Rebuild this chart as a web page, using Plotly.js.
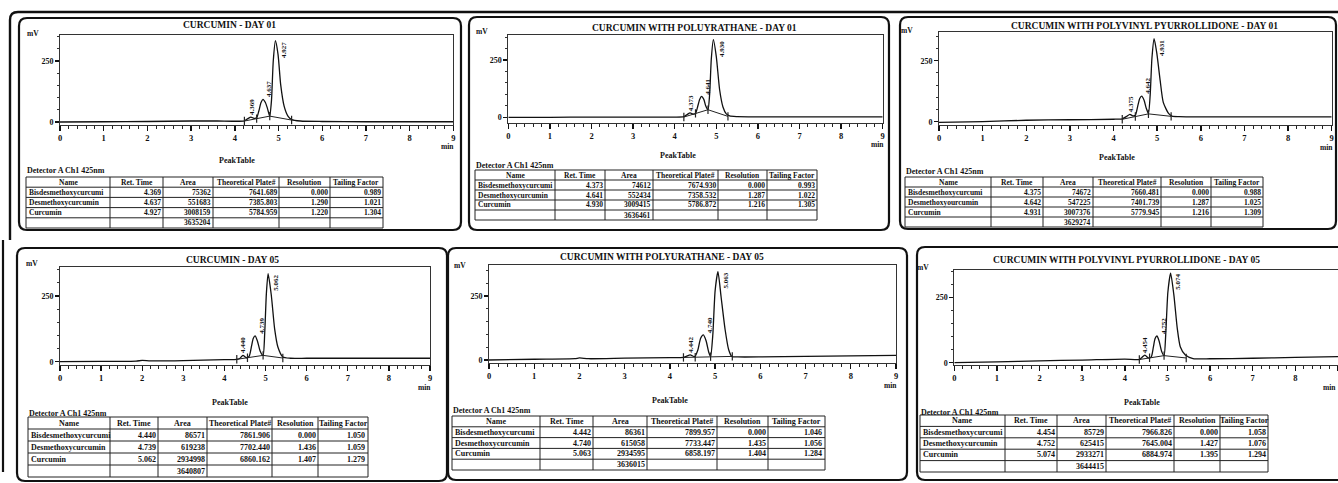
<!DOCTYPE html>
<html><head><meta charset="utf-8">
<script src="https://cdn.plot.ly/plotly-3.0.1.min.js"></script>
<style>html,body{margin:0;padding:0;background:#fff}</style>
</head><body><div id="chart" style="width:1338px;height:483px"></div>
<script>
// ================= DATA =================
const panelTitles = [
  "CURCUMIN - DAY 01",
  "CURCUMIN WITH POLUYRATHANE - DAY 01",
  "CURCUMIN WITH POLYVINYL PYURROLLIDONE - DAY 01",
  "CURCUMIN - DAY 05",
  "CURCUMIN WITH POLYURATHANE - DAY 05",
  "CURCUMIN WITH POLYVINYL PYURROLLIDONE - DAY 05"
];
const tableHeader = ["Name", "Ret. Time", "Area", "Theoretical Plate#", "Resolution", "Tailing Factor"];
const peakNames = ["Bisdesmethoxycurcumi", "Desmethoxycurcumin", "Curcumin"];
const peakNamesP3 = ["Bisdesmethoxycurcumi", "Desmethoxyourcumin", "Curcumin"];
const xTickLabels = ["0","1","2","3","4","5","6","7","8","9"];
const yTickLabels = ["0","250"];

// chromatogram signals (min, mV)
const time1   = [0, 1, 2, 3, 3.6, 4.0, 4.22, 4.30, 4.37, 4.44, 4.50, 4.55, 4.60, 4.645, 4.70, 4.745, 4.80, 4.84, 4.88, 4.93, 4.99, 5.05, 5.13, 5.22, 5.30, 5.5, 6, 7, 8, 9];
const signal1 = [0, 1, 2, 4, 4, 3, 5, 14, 20, 15, 17, 45, 80, 93, 80, 57, 24, 90, 250, 333, 276, 153, 64, 23, 10, 4, 2, 1, 1, 1];
const tentTime1 = [4.22, 4.50, 4.80, 5.30];
const tentSignal1 = [4, 14, 24, 8];

const time2   = [0, 1, 2, 3, 4.0, 4.22, 4.30, 4.37, 4.44, 4.50, 4.55, 4.60, 4.645, 4.70, 4.745, 4.80, 4.84, 4.88, 4.93, 5.00, 5.08, 5.16, 5.24, 5.32, 5.5, 6, 7, 8, 9];
const signal2 = [0, 0, 1, 1, 1, 3, 12, 19, 14, 16, 45, 78, 91, 78, 50, 33, 100, 255, 339, 265, 120, 45, 15, 6, 3, 2, 2, 2, 2];
const tentTime2 = [4.22, 4.50, 4.80, 5.28];
const tentSignal2 = [1, 17, 33, 4];

const time3   = [0, 1, 2, 3, 4.0, 4.20, 4.30, 4.375, 4.44, 4.50, 4.55, 4.60, 4.645, 4.70, 4.75, 4.80, 4.84, 4.88, 4.93, 4.99, 5.07, 5.14, 5.26, 5.34, 5.5, 6, 7, 8, 9];
const signal3 = [-3, 0, 6, 8, 10, 12, 22, 30, 24, 26, 60, 95, 105, 88, 55, 34, 110, 260, 340, 283, 167, 79, 34, 23, 21, 20, 20, 20, 20];
const tentTime3 = [4.20, 4.50, 4.80, 5.32];
const tentSignal3 = [10, 21, 32, 22];

const time4   = [0, 1, 1.85, 2.0, 2.2, 3, 4.0, 4.30, 4.37, 4.45, 4.53, 4.60, 4.66, 4.70, 4.745, 4.80, 4.87, 4.94, 4.98, 5.02, 5.062, 5.14, 5.22, 5.30, 5.42, 5.6, 6, 7, 8, 9];
const signal4 = [0, 1, 2, 5, 3, 4, 8, 9, 12, 24, 15, 20, 60, 88, 98, 80, 40, 24, 110, 260, 335, 253, 126, 56, 18, 13, 13, 13, 13, 13];
const tentTime4 = [4.30, 4.56, 4.94, 5.42];
const tentSignal4 = [9, 15, 24, 14];

const time5   = [0, 1, 1.9, 2.0, 2.2, 3, 4.0, 4.30, 4.37, 4.45, 4.55, 4.62, 4.68, 4.74, 4.80, 4.86, 4.90, 4.95, 5.00, 5.063, 5.13, 5.22, 5.30, 5.37, 5.5, 6, 7, 8, 9];
const signal5 = [0, 3, 5, 8, 5, 7, 9, 10, 15, 20, 13, 40, 85, 98, 75, 30, 13, 100, 270, 345, 250, 120, 40, 14, 12, 12, 14, 16, 18];
const tentTime5 = [4.30, 4.56, 4.90, 5.38];
const tentSignal5 = [10, 11, 13, 14];

const time6   = [0, 1, 2, 3, 4.0, 4.34, 4.40, 4.47, 4.55, 4.62, 4.67, 4.71, 4.752, 4.80, 4.86, 4.92, 4.96, 5.01, 5.074, 5.15, 5.23, 5.30, 5.42, 5.6, 6, 7, 8, 9];
const signal6 = [0, 3, 7, 10, 14, 12, 20, 29, 18, 22, 60, 92, 102, 85, 45, 27, 110, 270, 342, 259, 131, 61, 29, 16, 15, 17, 20, 23];
const tentTime6 = [4.34, 4.58, 4.92, 5.44];
const tentSignal6 = [12, 19, 27, 18];

// peak tables
const retTime1 = [4.369, 4.637, 4.927]; const area1 = [75362, 551683, 3008159]; const totalArea1 = 3635204;
const plates1 = [7641.689, 7385.803, 5784.959]; const resolution1 = [0.000, 1.290, 1.220]; const tailing1 = [0.989, 1.021, 1.304];

const retTime2 = [4.373, 4.641, 4.930]; const area2 = [74612, 552434, 3009415]; const totalArea2 = 3636461;
const plates2 = [7674.930, 7358.532, 5786.872]; const resolution2 = [0.000, 1.287, 1.216]; const tailing2 = [0.993, 1.022, 1.305];

const retTime3 = [4.375, 4.642, 4.931]; const area3 = [74672, 547225, 3007376]; const totalArea3 = 3629274;
const plates3 = [7660.481, 7401.739, 5779.945]; const resolution3 = [0.000, 1.287, 1.216]; const tailing3 = [0.988, 1.025, 1.309];

const retTime4 = [4.440, 4.739, 5.062]; const area4 = [86571, 619238, 2934998]; const totalArea4 = 3640807;
const plates4 = [7861.906, 7702.440, 6860.162]; const resolution4 = [0.000, 1.436, 1.407]; const tailing4 = [1.050, 1.059, 1.279];

const retTime5 = [4.442, 4.740, 5.063]; const area5 = [86361, 615058, 2934595]; const totalArea5 = 3636015;
const plates5 = [7899.957, 7733.447, 6858.197]; const resolution5 = [0.000, 1.435, 1.404]; const tailing5 = [1.046, 1.056, 1.284];

const retTime6 = [4.454, 4.752, 5.074]; const area6 = [85729, 625415, 2933271]; const totalArea6 = 3644415;
const plates6 = [7966.826, 7645.004, 6884.974]; const resolution6 = [0.000, 1.427, 1.395]; const tailing6 = [1.058, 1.076, 1.294];

// ================= LAYOUT (pixel geometry) =================
const W = 1338, H = 483;
const FONT = "Liberation Serif, Times New Roman, serif";
const fx = px => px / W;
const fy = py => 1 - py / H;

const panels = [
  {time: time1, sig: signal1, tT: tentTime1, tS: tentSignal1, rt: retTime1, area: area1, total: totalArea1, tp: plates1, res: resolution1, tf: tailing1, names: peakNames,
   x0: 60, x9: 453.3, top: 35, axis: 125, yr: [-12.3, 356.6], title: [230, 25], mv: [33, 33], minY: 146, pt: [237, 160], det: [26, 170],
   cols: [26, 110, 163, 213, 279, 330, 383], tTop: 177, tBot: 228, box: [19, 18, 461, 230], fs: 7.5},
  {time: time2, sig: signal2, tT: tentTime2, tS: tentSignal2, rt: retTime2, area: area2, total: totalArea2, tp: plates2, res: resolution2, tf: tailing2, names: peakNames,
   x0: 508.3, x9: 882.7, top: 35, axis: 122.7, yr: [-23.6, 359], title: [694, 28], mv: [482, 32], minY: 144, pt: [678, 155], det: [475, 165],
   cols: [475, 555, 605, 653, 718, 767, 817], tTop: 170, tBot: 220, box: [469, 17, 889, 230], fs: 7.5},
  {time: time3, sig: signal3, tT: tentTime3, tS: tentSignal3, rt: retTime3, area: area3, total: totalArea3, tp: plates3, res: resolution3, tf: tailing3, names: peakNamesP3,
   x0: 939, x9: 1331.7, top: 31.7, axis: 124.5, yr: [-11.5, 368.9], title: [1144, 26], mv: [907, 30], minY: 147, pt: [1117, 157], det: [905, 172],
   cols: [905, 991, 1043, 1093, 1161, 1211, 1263], tTop: 177, tBot: 227, box: [900, 17, 1336, 229], fs: 7.5},
  {time: time4, sig: signal4, tT: tentTime4, tS: tentSignal4, rt: retTime4, area: area4, total: totalArea4, tp: plates4, res: resolution4, tf: tailing4, names: peakNames,
   x0: 60, x9: 430, top: 266.7, axis: 365, yr: [-12.6, 361.5], title: [232, 260], mv: [32, 263], minY: 387, pt: [230, 402], det: [28, 413],
   cols: [28, 110, 158, 207, 272, 318, 368], tTop: 417, tBot: 477, box: [17, 248, 447, 481], fs: 8},
  {time: time5, sig: signal5, tT: tentTime5, tS: tentSignal5, rt: retTime5, area: area5, total: totalArea5, tp: plates5, res: resolution5, tf: tailing5, names: peakNames,
   x0: 489, x9: 896, top: 265, axis: 363, yr: [-11.7, 371], title: [662, 257], mv: [460, 265], minY: 385, pt: [670, 400], det: [452, 410],
   cols: [452, 540, 593, 647, 717, 768, 825], tTop: 416, tBot: 470, box: [448, 248, 907, 480], fs: 8},
  {time: time6, sig: signal6, tT: tentTime6, tS: tentSignal6, rt: retTime6, area: area6, total: totalArea6, tp: plates6, res: resolution6, tf: tailing6, names: peakNames,
   x0: 954.3, x9: 1338, top: 270, axis: 365, yr: [-8.8, 354], title: [1126, 260], mv: [923, 267], minY: 387, pt: [1142, 402], det: [920, 412],
   cols: [920, 1005, 1057, 1106, 1174, 1220, 1268], tTop: 415, tBot: 472, box: [917, 247, 1350, 480], fs: 8}
];

const data = [];
const annotations = [];
const shapes = [];
const layout = {
  width: W, height: H, margin: {l: 0, r: 0, t: 0, b: 0},
  paper_bgcolor: "#fff", plot_bgcolor: "rgba(0,0,0,0)", showlegend: false,
  font: {family: FONT, color: "#111"}
};

function roundRect(x0, y0, x1, y1, r) {
  const X = v => fx(v).toFixed(5), Y = v => fy(v).toFixed(5);
  return `M${X(x0 + r)},${Y(y0)} L${X(x1 - r)},${Y(y0)} Q${X(x1)},${Y(y0)} ${X(x1)},${Y(y0 + r)} ` +
         `L${X(x1)},${Y(y1 - r)} Q${X(x1)},${Y(y1)} ${X(x1 - r)},${Y(y1)} L${X(x0 + r)},${Y(y1)} ` +
         `Q${X(x0)},${Y(y1)} ${X(x0)},${Y(y1 - r)} L${X(x0)},${Y(y0 + r)} Q${X(x0)},${Y(y0)} ${X(x0 + r)},${Y(y0)} Z`;
}
function paperAnn(text, px, py, size, opts, weight) {
  return Object.assign({xref: "paper", yref: "paper", x: fx(px), y: fy(py), text: text, showarrow: false,
    font: {family: FONT, size: size, color: "#111", weight: weight || "bold"}, xanchor: "center", yanchor: "middle",
    borderpad: 0}, opts || {});
}
function pline(x0, y0, x1, y1, w, c) {
  return {type: "line", xref: "paper", yref: "paper", x0: fx(x0), y0: fy(y0), x1: fx(x1), y1: fy(y1),
    line: {color: c || "#222", width: w || 1}};
}

panels.forEach((p, i) => {
  const k = i + 1;
  const xn = k === 1 ? "x" : "x" + k, yn = k === 1 ? "y" : "y" + k;
  const xa = k === 1 ? "xaxis" : "xaxis" + k, ya = k === 1 ? "yaxis" : "yaxis" + k;
  layout[xa] = {
    domain: [fx(p.x0), Math.min(1, fx(p.x9))], range: [0, 9], anchor: yn,
    showline: true, mirror: true, linecolor: "#333", linewidth: 1,
    tickmode: "array", tickvals: xTickLabels.map(Number), ticktext: xTickLabels,
    ticks: "outside", ticklen: 5, tickwidth: 1.4, tickcolor: "#111",
    tickfont: {family: FONT, size: 8.5, color: "#111", weight: "bold"},
    minor: {dtick: 0.2, tick0: 0, ticks: "outside", ticklen: 3, tickwidth: 1, tickcolor: "#222"},
    showgrid: false, zeroline: false, fixedrange: true
  };
  layout[ya] = {
    domain: [fy(p.axis), fy(p.top)], range: p.yr, anchor: xn,
    showline: true, mirror: true, linecolor: "#333", linewidth: 1,
    tickmode: "array", tickvals: yTickLabels.map(Number), ticktext: yTickLabels,
    ticks: "outside", ticklen: 4, tickwidth: 1.2, tickcolor: "#111",
    tickfont: {family: FONT, size: 8, color: "#111", weight: "bold"},
    minor: {dtick: 50, tick0: 0, ticks: "outside", ticklen: 2, tickwidth: 1, tickcolor: "#333"},
    showgrid: false, zeroline: false, fixedrange: true
  };
  // signal
  data.push({type: "scatter", mode: "lines", x: p.time, y: p.sig, xaxis: xn, yaxis: yn,
    line: {color: "#111", width: 1.3, shape: "spline", smoothing: 0.6}, hoverinfo: "skip"});
  // integration baseline with drop marks
  data.push({type: "scatter", mode: "lines+markers", x: p.tT, y: p.tS, xaxis: xn, yaxis: yn,
    line: {color: "#222", width: 1}, marker: {symbol: "line-ns-open", size: 6, line: {color: "#111", width: 1.2}},
    hoverinfo: "skip"});
  // peak labels at apex
  p.rt.forEach((rt, j) => {
    let apex = -Infinity;
    p.time.forEach((t, m) => { if (Math.abs(t - rt) < 0.1 && p.sig[m] > apex) apex = p.sig[m]; });
    const isMain = j === p.rt.length - 1;
    annotations.push({xref: xn, yref: yn, x: rt, y: apex, text: rt.toFixed(3), showarrow: false, textangle: -90,
      font: {family: FONT, size: 7, color: "#111", weight: "bold"}, borderpad: 0,
      xanchor: isMain ? "left" : (j === 0 ? "center" : "left"), yanchor: isMain ? "top" : "bottom",
      xshift: isMain ? 3 : (j === 0 ? 1 : 2), yshift: isMain ? 0 : 1});
  });
  // texts
  annotations.push(paperAnn(panelTitles[i], p.title[0], p.title[1], 9.5));
  annotations.push(paperAnn("mV", p.mv[0], p.mv[1], 7.5));
  annotations.push(paperAnn("min", Math.min(p.x9 + 2, 1337), p.minY, 7.5, {xanchor: "right"}));
  annotations.push(paperAnn("PeakTable", p.pt[0], p.pt[1], 8));
  annotations.push(paperAnn("Detector A Ch1 425nm", p.det[0], p.det[1], 8, {xanchor: "left"}));

  // peak table: grid lines and cell texts
  const rowH = (p.tBot - p.tTop) / 5;
  for (let r = 0; r <= 5; r++) shapes.push(pline(p.cols[0], p.tTop + r * rowH, p.cols[6], p.tTop + r * rowH, 1));
  p.cols.forEach(c => shapes.push(pline(c, p.tTop, c, p.tBot, 1)));
  const f3 = v => v.toFixed(3);
  const columns = [p.names.concat([""]), p.rt.map(f3).concat([""]), p.area.map(String).concat([String(p.total)]),
                   p.tp.map(f3).concat([""]), p.res.map(f3).concat([""]), p.tf.map(f3).concat([""])];
  tableHeader.forEach((h, c) => {
    annotations.push(paperAnn(h, (p.cols[c] + p.cols[c + 1]) / 2, p.tTop + rowH / 2, p.fs));
  });
  columns.forEach((col, c) => {
    col.forEach((v, r) => {
      if (v === "") return;
      const cy = p.tTop + (r + 1.5) * rowH;
      if (c === 0) annotations.push(paperAnn(v, p.cols[0] + 1.5, cy, p.fs, {xanchor: "left"}));
      else annotations.push(paperAnn(v, p.cols[c + 1] - 1.5, cy, p.fs, {xanchor: "right"}));
    });
  });
  // panel border
  shapes.push({type: "path", xref: "paper", yref: "paper", path: roundRect(p.box[0], p.box[1], p.box[2], p.box[3], 8),
    line: {color: "#111", width: 2.2}, layer: "above"});
});

// outer frame lines
shapes.push({type: "path", xref: "paper", yref: "paper",
  path: `M${fx(1338)},${fy(12)} L${fx(18)},${fy(12)} Q${fx(10)},${fy(12)} ${fx(10)},${fy(20)} L${fx(10)},${fy(240)}`,
  line: {color: "#111", width: 2.4}});
shapes.push(pline(3, 240, 3, 472, 2.2, "#111"));

layout.annotations = annotations;
layout.shapes = shapes;

Plotly.newPlot("chart", data, layout, {staticPlot: true, displayModeBar: false});
</script>
</body></html>
